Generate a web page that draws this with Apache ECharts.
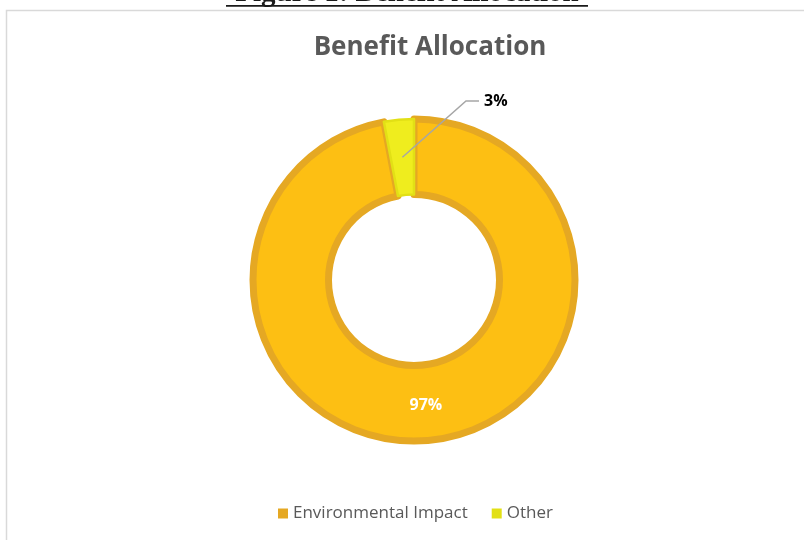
<!DOCTYPE html>
<html><head><meta charset="utf-8">
<script src="https://cdn.jsdelivr.net/npm/echarts@6/dist/echarts.min.js"></script>
<style>html,body{margin:0;padding:0;background:#fff;}#c{width:804px;height:540px;}</style>
</head><body><div id="c"></div>
<script>
const categories = ['Environmental Impact', 'Other'];
const values = [97, 3];
const labels = ['97%', '3%'];
const fillColors = ['#FDBF13', '#EFED1E'];
const borderColors = ['#E5A823', '#E2E015'];
const borderWidths = [7, 2.5];

const CX = 414, CY = 280, R_OUT = 161, R_IN = 85.5;
const total = values.reduce((a, b) => a + b, 0);
function midAngle(i) {
  let cum = 0;
  for (let k = 0; k < i; k++) cum += values[k];
  return (90 - 360 * (cum + values[i] / 2) / total) * Math.PI / 180;
}
const chart = echarts.init(document.getElementById('c'));
chart.setOption({
  animation: false,
  backgroundColor: '#fff',
  title: {
    text: 'Benefit Allocation', left: 425, top: 30, textAlign: 'center',
    textStyle: { fontFamily: 'Open Sans', fontWeight: 'bold', fontSize: 26, color: '#595959' }
  },
  legend: {
    bottom: 13, left: 273, itemWidth: 10, itemHeight: 10, itemGap: 24,
    icon: 'rect',
    textStyle: { fontFamily: 'Open Sans', fontSize: 17, color: '#595959', padding: [0, 0, 0, 0] },
    data: categories.map((c, i) => ({ name: c, itemStyle: { color: borderColors[i], borderWidth: 0 } }))
  },
  graphic: [
    { type: 'rect', shape: { x: 6.5, y: 10.5, width: 900, height: 600 }, style: { fill: 'none', stroke: '#D9D9D9', lineWidth: 1.5 }, z: -1 },
    { type: 'text', x: 407, y: 8, style: { text: 'Figure 1: Benefit Allocation', font: 'bold 29px "Liberation Serif"', fill: '#1a1a1a', align: 'center', verticalAlign: 'bottom' } },
    { type: 'rect', shape: { x: 226, y: 5, width: 362, height: 1.7 }, style: { fill: '#1a1a1a' } }
  ],
  series: [{
    type: 'pie',
    center: [CX, CY],
    radius: [R_IN, R_OUT],
    startAngle: 90,
    clockwise: true,
    emphasis: { disabled: true },
    label: { show: false },
    labelLine: { show: false },
    data: categories.map((c, i) => ({
      name: c, value: values[i],
      itemStyle: { color: fillColors[i], borderColor: borderColors[i], borderWidth: borderWidths[i] }
    }))
  }, {
    type: 'pie',
    z: 5,
    silent: true,
    center: [CX, CY],
    radius: [R_IN, R_OUT],
    startAngle: 90,
    clockwise: true,
    itemStyle: { color: 'rgba(0,0,0,0)', borderWidth: 0 },
    emphasis: { disabled: true },
    label: {
      position: 'outside', fontFamily: 'Open Sans', fontWeight: 'bold', fontSize: 16, color: '#000',
      formatter: p => labels[p.dataIndex]
    },
    labelLine: { show: true, lineStyle: { color: '#A6A6A6', width: 1.5 } },
    labelLayout: function (p) {
      if (p.dataIndex !== 1) return {};
      const a = midAngle(1);
      const rMid = (R_IN + R_OUT) / 2;
      const s = [CX + rMid * Math.cos(a), CY - rMid * Math.sin(a)];
      return {
        x: 484, y: 101, align: 'left', verticalAlign: 'middle',
        labelLinePoints: [s, [466, 101], [479, 101]]
      };
    },
    data: categories.map((c, i) => ({
      name: c, value: values[i],
      label: i === 0 ? { position: 'inner', color: '#fff', fontSize: 16, fontWeight: 'bold' } : {},
      labelLine: { show: i !== 0 }
    }))
  }]
});
</script></body></html>
